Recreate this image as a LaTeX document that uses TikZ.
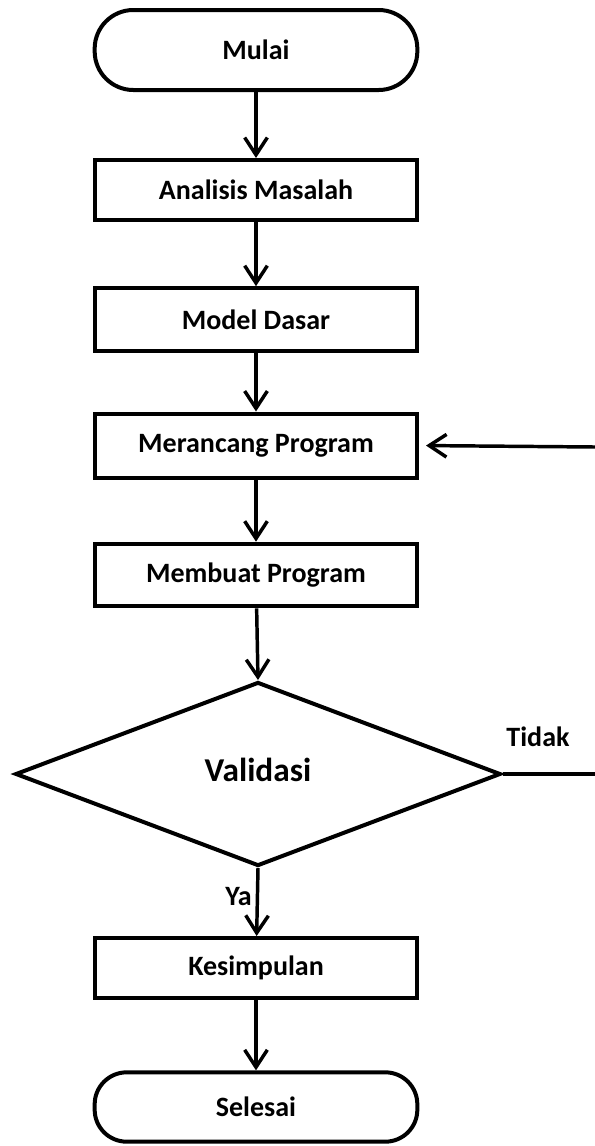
\documentclass[tikz,border=0pt]{standalone}
\usepackage{fontspec}
\setmainfont{Carlito}
\usepackage{tikz}
\usetikzlibrary{arrows.meta,shapes.geometric}
\newcommand{\flfont}{\fontsize{21}{24}\selectfont\bfseries}
\tikzset{
  term/.style={draw, line width=3pt, rounded corners=29pt, minimum width=242pt,
              minimum height=60pt, font=\flfont, align=center},
  box/.style={draw, line width=3pt, minimum width=242pt, minimum height=47pt,
              font=\flfont, align=center},
  decide/.style={draw, line width=3pt, diamond, aspect=2.64, inner sep=0pt,
              minimum width=364pt, minimum height=138pt,
              font=\fontsize{25}{28}\selectfont\bfseries},
  flow/.style={-{Straight Barb[length=13pt, width=17pt]}, line width=2.6pt},
  lbl/.style={font=\flfont, inner sep=0pt},
}

\begin{document}
\begin{tikzpicture}[x=0.75pt, y=-0.75pt]
        \useasboundingbox (0,0) rectangle (595,1146);
        \node[term] (mulai) at (256,50) {Mulai};
        \node[box, minimum height=45pt] (analisis) at (256,190) {Analisis Masalah};
        \node[box] (model) at (256,319.5) {Model Dasar};
        \node[box, minimum height=48pt] (merancang) at (256,445.5) {Merancang Program};
        \node[box] (membuat) at (256,575) {Membuat Program};
        \node[decide] (validasi) at (258,774) {\raisebox{7pt}{Validasi}};
        \node[box, minimum height=45pt] (kesimpulan) at (256,968) {Kesimpulan};
        \node[term, minimum height=52pt, rounded corners=24pt] (selesai) at (256,1107) {Selesai};
        \coordinate (kanan1) at (595,447);
        \coordinate (kanan2) at (595,774);
        \draw[flow] (mulai) -- (analisis);
        \draw[flow] (analisis) -- (model);
        \draw[flow] (model) -- (merancang);
        \draw[flow] (merancang) -- (membuat);
        \draw[flow] (membuat) -- (validasi.north);
        \draw[flow] (validasi.south) -- (kesimpulan);
        \draw[flow] (kesimpulan) -- (selesai);
        \draw[line width=2.6pt] (validasi.east) -- (kanan2);
        \draw[flow, shorten >=5pt] (kanan1) -- (merancang.east);
        \node[lbl] (tidak) at (538,737) {Tidak};
        \node[lbl, anchor=east] (ya) at (252,897) {Ya};
\end{tikzpicture}
\end{document}
